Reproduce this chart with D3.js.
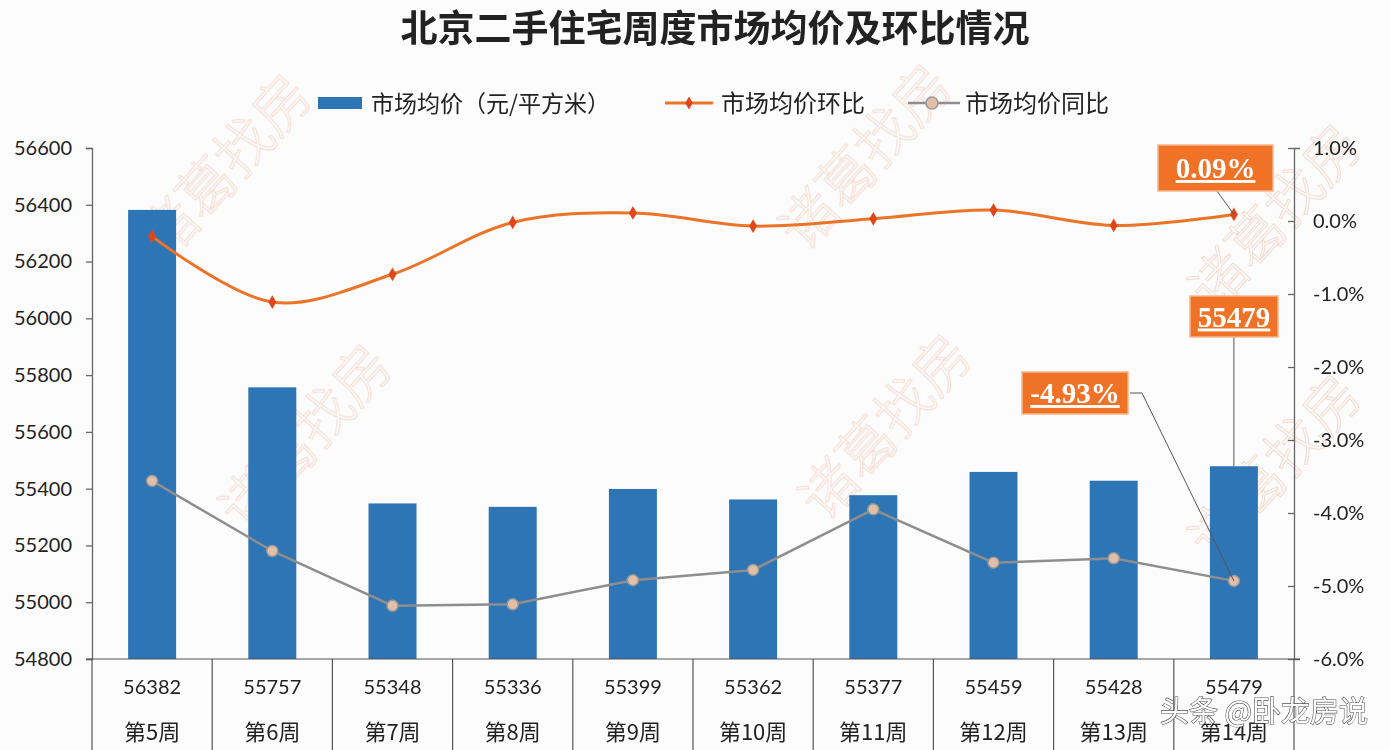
<!DOCTYPE html>
<html><head><meta charset="utf-8">
<script src="https://cdn.jsdelivr.net/npm/d3@7"></script>
<style>
html,body{margin:0;padding:0;background:#fdfcfc;}
svg{display:block;}
</style></head>
<body>
<svg id="chart" width="1390" height="750"></svg>
<script>
// ---- data ----
const weeks = ["第5周","第6周","第7周","第8周","第9周","第10周","第11周","第12周","第13周","第14周"];
const avgPrice = [56382, 55757, 55348, 55336, 55399, 55362, 55377, 55459, 55428, 55479];
const momPct = [-0.21, -1.11, -0.73, -0.02, 0.11, -0.07, 0.03, 0.15, -0.06, 0.09];
const yoyPct = [-3.56, -4.52, -5.27, -5.25, -4.92, -4.78, -3.95, -4.68, -4.62, -4.93];
const leftTicks = [54800, 55000, 55200, 55400, 55600, 55800, 56000, 56200, 56400, 56600];
const rightTicks = [-6, -5, -4, -3, -2, -1, 0, 1];
const seriesNames = ["市场均价（元/平方米）", "市场均价环比", "市场均价同比"];
const titleText = "北京二手住宅周度市场均价及环比情况";

const svg = d3.select("#chart");
const L = 92, R = 1294, T = 148, B = 659;
const numFont = "Lato, 'Noto Sans', sans-serif";
const cjk = "'Noto Sans CJK SC', sans-serif";

// watermarks
const wm = svg.append("g").attr("fill", "none").attr("stroke", "#efcdbd").attr("stroke-width", 1)
  .attr("opacity", 0.7).attr("font-family", cjk).attr("font-weight", 300).attr("font-size", 56);
[[240,180],[320,450],[880,170],[900,440],[1290,230],[1290,480]].forEach(([x,y]) => {
  wm.append("text").attr("transform", `translate(${x},${y}) rotate(-48)`).attr("text-anchor","middle").text("诸葛找房");
});

// scales
const xc = d3.scaleBand().domain(weeks).range([L, R]);
const yL = d3.scaleLinear().domain([54800, 56600]).range([B, T]);
const yR = d3.scaleLinear().domain([-6, 1]).range([B, T]);
const cx = i => xc(weeks[i]) + xc.bandwidth() / 2;
const bw = 48;

// title
svg.append("text").attr("x", 715).attr("y", 42).attr("text-anchor", "middle")
  .attr("font-family", cjk).attr("font-weight", 700).attr("font-size", 37).attr("fill", "#222")
  .text(titleText);

// legend
const lg = svg.append("g").attr("font-family", cjk).attr("font-size", 23).attr("fill", "#222");
lg.append("rect").attr("x", 318).attr("y", 97).attr("width", 44).attr("height", 12).attr("fill", "#2E75B6");
lg.append("text").attr("x", 371).attr("y", 112).text(seriesNames[0]);
lg.append("line").attr("x1", 665).attr("x2", 713).attr("y1", 103).attr("y2", 103).attr("stroke", "#EC7428").attr("stroke-width", 3);
lg.append("path").attr("d", d3.symbol(d3.symbolDiamond, 50)()).attr("transform", "translate(689,103)").attr("fill", "#E0461A");
lg.append("text").attr("x", 721).attr("y", 112).attr("font-size", 24).text(seriesNames[1]);
lg.append("line").attr("x1", 908).attr("x2", 960).attr("y1", 103).attr("y2", 103).attr("stroke", "#8e8e8e").attr("stroke-width", 2.5);
lg.append("circle").attr("cx", 932).attr("cy", 103).attr("r", 6).attr("fill", "#E2C0A8").attr("stroke", "#999").attr("stroke-width", 1.5);
lg.append("text").attr("x", 965).attr("y", 112).attr("font-size", 24).text(seriesNames[2]);

// bars
svg.append("g").selectAll("rect").data(avgPrice).join("rect")
  .attr("x", (d, i) => cx(i) - bw / 2).attr("width", bw)
  .attr("y", d => yL(d)).attr("height", d => B - yL(d)).attr("fill", "#2E75B6");

// axes
const axL = svg.append("g").attr("transform", `translate(${L},0)`)
  .call(d3.axisLeft(yL).tickValues(leftTicks).tickSize(6).tickPadding(14).tickFormat(d3.format("d")));
const axR = svg.append("g").attr("transform", `translate(${R},0)`)
  .call(d3.axisRight(yR).tickValues(rightTicks).tickSize(6).tickPadding(13).tickFormat(d => d.toFixed(1) + "%"));
[axL, axR].forEach(a => {
  a.select(".domain").attr("stroke", "#666").attr("stroke-width", 1.3);
  a.selectAll(".tick line").attr("stroke", "#666").attr("stroke-width", 1.3);
  a.selectAll(".tick text").attr("font-family", numFont).attr("font-size", 20).attr("fill", "#222");
});
axR.selectAll(".tick line").attr("x1", -6).attr("x2", 0);

// table grid under plot
const tg = svg.append("g").attr("stroke", "#555").attr("stroke-width", 1.2);
tg.append("line").attr("x1", L - 6).attr("x2", R + 6).attr("y1", B).attr("y2", B);
d3.range(weeks.length + 1).forEach(i => {
  const xx = i < weeks.length ? xc(weeks[i]) : R;
  tg.append("line").attr("x1", xx).attr("x2", xx).attr("y1", B).attr("y2", 750);
});
svg.append("g").selectAll("text").data(avgPrice).join("text")
  .attr("x", (d, i) => cx(i)).attr("y", 694).attr("text-anchor", "middle")
  .attr("font-family", numFont).attr("font-size", 20).attr("fill", "#222").text(d => d);
svg.append("g").selectAll("text").data(weeks).join("text")
  .attr("x", (d, i) => cx(i)).attr("y", 740).attr("text-anchor", "middle")
  .attr("font-family", cjk).attr("font-size", 22).attr("fill", "#222").text(d => d);

// YoY line
const lineYoy = d3.line().x((d, i) => cx(i)).y(d => yR(d));
svg.append("path").datum(yoyPct).attr("d", lineYoy).attr("fill", "none").attr("stroke", "#8e8e8e").attr("stroke-width", 2.5);
svg.append("g").selectAll("circle").data(yoyPct).join("circle")
  .attr("cx", (d, i) => cx(i)).attr("cy", d => yR(d)).attr("r", 5.5)
  .attr("fill", "#E2C0A8").attr("stroke", "#999").attr("stroke-width", 1.5);

// MoM line
const lineMom = d3.line().x((d, i) => cx(i)).y(d => yR(d)).curve(d3.curveCatmullRom.alpha(0.5));
svg.append("path").datum(momPct).attr("d", lineMom).attr("fill", "none").attr("stroke", "#EC7428").attr("stroke-width", 3);
svg.append("g").selectAll("path").data(momPct).join("path")
  .attr("d", d3.symbol(d3.symbolDiamond, 55)())
  .attr("transform", (d, i) => `translate(${cx(i)},${yR(d)})`).attr("fill", "#E0461A");

// callouts
const last = weeks.length - 1;
const lead = svg.append("g").attr("stroke", "#555").attr("stroke-width", 1).attr("fill", "none");
lead.append("line").attr("x1", 1217).attr("y1", 191).attr("x2", cx(last)).attr("y2", yR(momPct[last]));
lead.append("line").attr("x1", cx(last)).attr("y1", 337).attr("x2", cx(last)).attr("y2", yL(avgPrice[last]));
lead.append("polyline").attr("points", `1130,393 1142,393 ${cx(last)},${yR(yoyPct[last])}`);

function callout(x0, y0, w, h, txt) {
  svg.append("rect").attr("x", x0).attr("y", y0).attr("width", w).attr("height", h)
    .attr("fill", "#F07226").attr("stroke", "#f7b58c").attr("stroke-width", 1.5);
  svg.append("text").attr("x", x0 + w / 2).attr("y", y0 + h / 2 + 10).attr("text-anchor", "middle")
    .attr("font-family", "'Liberation Serif', serif").attr("font-weight", 700).attr("font-size", 29)
    .attr("fill", "#fff").attr("text-decoration", "underline").text(txt);
}
callout(1158, 145, 115, 46, momPct[last].toFixed(2) + "%");
callout(1190, 296, 88, 41, String(avgPrice[last]));
callout(1022, 372, 106, 42, yoyPct[last].toFixed(2) + "%");

// source overlay
svg.append("text").attr("x", 1368).attr("y", 722).attr("text-anchor", "end")
  .attr("font-family", cjk).attr("font-size", 29).attr("fill", "#fff")
  .attr("stroke", "#555").attr("stroke-width", 1.2).attr("paint-order", "stroke")
  .text("头条 @卧龙房说");
</script>
</body></html>
